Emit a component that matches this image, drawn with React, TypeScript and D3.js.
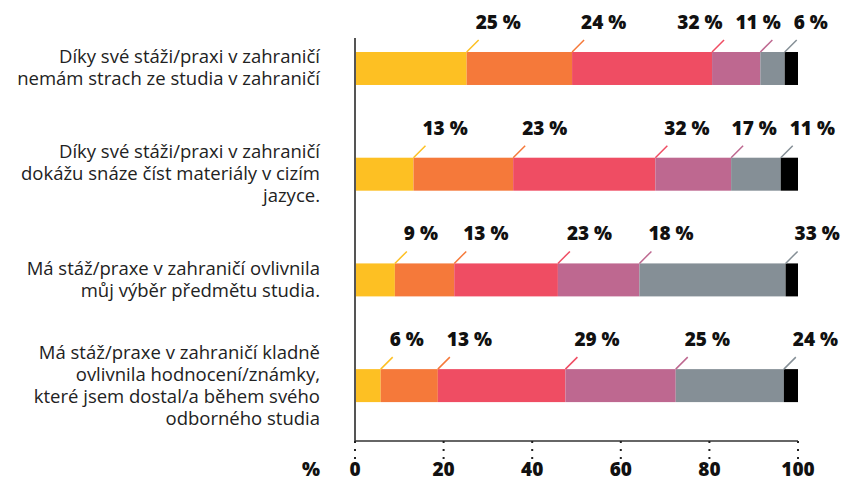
import React from 'react';
import * as d3 from 'd3';

const categories = [
  ['Díky své stáži/praxi v zahraničí', 'nemám strach ze studia v zahraničí'],
  ['Díky své stáži/praxi v zahraničí', 'dokážu snáze číst materiály v cizím', 'jazyce.'],
  ['Má stáž/praxe v zahraničí ovlivnila', 'můj výběr předmětu studia.'],
  ['Má stáž/praxe v zahraničí kladně', 'ovlivnila hodnocení/známky,', 'které jsem dostal/a během svého', 'odborného studia'],
];

// share of answers per statement, in %
const answerA = [25.2, 13.2, 9.0, 5.8];
const answerB = [23.8, 22.5, 13.4, 12.9];
const answerC = [31.6, 32.1, 23.4, 28.8];
const answerD = [10.9, 17.1, 18.4, 24.9];
const answerE = [5.5, 11.2, 33.0, 24.4];
const noAnswer = [3.0, 3.9, 2.8, 3.2];

const series = [answerA, answerB, answerC, answerD, answerE, noAnswer];
const colors = ['#FDC023', '#F5793A', '#EF4D63', '#BE6890', '#858F96', '#000000'];
const ticks = [0, 20, 40, 60, 80, 100];

const W = 843;
const H = 479;
const boldFont = '"Open Sans", Lato, sans-serif';
const textFont = '"Open Sans", Lato, sans-serif';
const valueSize = 19;

let ctx: CanvasRenderingContext2D | null = null;
function textWidth(s: string) {
  if (!ctx) ctx = document.createElement('canvas').getContext('2d');
  if (!ctx) return s.length * 10;
  ctx.font = `800 ${valueSize}px "Open Sans", Lato, sans-serif`;
  return ctx.measureText(s).width;
}

export default function App() {
  const x = d3.scaleLinear().domain([0, 100]).range([355, 798]);
  const y = d3
    .scaleBand<number>()
    .domain(categories.map((_, i) => i))
    .range([15, 439.1])
    .paddingInner(0.688)
    .paddingOuter(0.35);

  const stacked = d3
    .stack<number[], number>()
    .keys(series.map((_, k) => k))
    .value((row, k) => row[k])(categories.map((_, i) => series.map((s) => s[i])));

  const bw = y.bandwidth();
  const lead = 12;
  const gap = 13;

  // value labels: start at the leader's tip, push left when crowded
  const labels = categories.map((_, i) => {
    const items = stacked.slice(0, 5).map((layer, k) => {
      const ex = x(layer[i][1]);
      const text = `${Math.round(series[k][i])} %`;
      return { k, ex, text, w: textWidth(text), tx: ex + lead - 3 };
    });
    for (let j = items.length - 2; j >= 0; j--) {
      const limit = items[j + 1].tx - gap;
      if (items[j].tx + items[j].w > limit) items[j].tx = limit - items[j].w;
    }
    return items;
  });

  return (
    <svg width={W} height={H} style={{ position: 'absolute', left: 0, top: 0, display: 'block' }}>
      {/* bars */}
      {stacked.map((layer, k) =>
        layer.map((d, i) => (
          <rect
            key={`b${k}-${i}`}
            x={x(d[0])}
            y={y(i)}
            width={x(d[1]) - x(d[0])}
            height={bw}
            fill={colors[k]}
          />
        ))
      )}

      {/* value labels with leader lines */}
      {labels.map((items, i) => {
        const top = y(i)!;
        return items.map((it) => (
          <g key={`l${it.k}-${i}`}>
            <line x1={it.ex} y1={top} x2={it.ex + lead} y2={top - lead} stroke={colors[it.k]} strokeWidth={1.5} />
            <text x={it.tx} y={top - 23} fontFamily={boldFont} fontWeight={800} fontSize={valueSize} fill="#111">
              {it.text}
            </text>
          </g>
        ));
      })}

      {/* category labels */}
      {categories.map((lines, i) => {
        const cy = y(i)! + bw / 2;
        const lh = 22;
        const first = cy + 6 - ((lines.length - 1) * lh) / 2;
        return (
          <text key={`c${i}`} textAnchor="end" fontFamily={textFont} fontSize={18.5} fill="#222">
            {lines.map((ln, j) => (
              <tspan key={j} x={320} y={first + j * lh}>
                {ln}
              </tspan>
            ))}
          </text>
        );
      })}

      {/* axes */}
      <line x1={x(0)} y1={38} x2={x(0)} y2={441} stroke="#555" strokeWidth={2} />
      <line x1={x(0)} y1={441} x2={x(100)} y2={441} stroke="#333" strokeWidth={1.5} />
      {ticks.map((t) => (
        <g key={`t${t}`}>
          <line x1={x(t)} y1={441} x2={x(t)} y2={459} stroke="#222" strokeWidth={2} strokeDasharray="2,6" />
          <text
            x={x(t)}
            y={476}
            textAnchor="middle"
            fontFamily={boldFont}
            fontWeight={800}
            fontSize={valueSize}
            fill="#111"
          >
            {t}
          </text>
        </g>
      ))}
      <text x={311} y={476} textAnchor="middle" fontFamily={boldFont} fontWeight={800} fontSize={valueSize} fill="#111">
        %
      </text>
    </svg>
  );
}
